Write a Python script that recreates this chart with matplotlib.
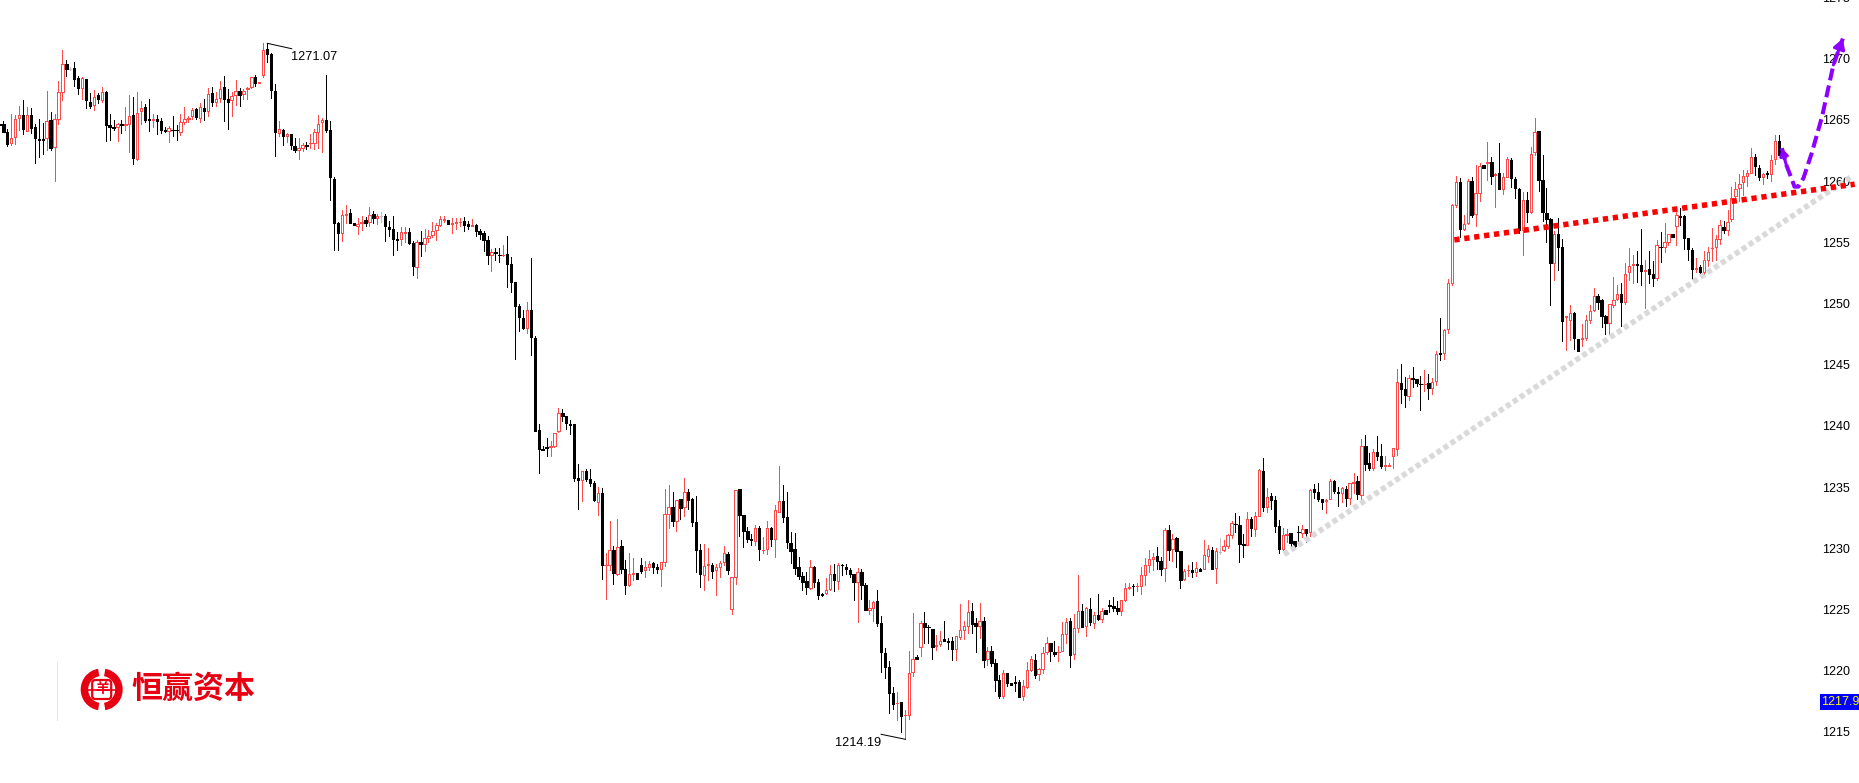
import numpy as np
import matplotlib
matplotlib.use("Agg")
import matplotlib.pyplot as plt
from matplotlib.patches import Rectangle, Wedge, FancyBboxPatch

plt.rcParams['font.family'] = ['Liberation Sans', 'Noto Sans CJK SC', 'DejaVu Sans']

# candles as (open, high, low, close), one list per leg of the move
bars_top = [
    (1264.65,1264.7,1264.55,1264.6),(1264.7,1264.9,1264.05,1264.05),(1264.0,1264.25,1262.9,1263.05),
    (1263.15,1265.5,1262.95,1263.5),(1263.6,1265.4,1263.05,1265.1),(1265.2,1266.15,1264.2,1265.4),
    (1265.4,1266.6,1263.85,1264.25),(1264.1,1266.05,1264.1,1265.4),(1265.4,1265.95,1263.95,1264.35),
    (1264.4,1264.65,1261.5,1263.55),(1263.45,1265.1,1262.0,1263.4),(1263.45,1264.75,1262.25,1263.4),
    (1263.5,1267.4,1262.55,1264.9),(1265.0,1265.65,1262.55,1262.7),(1262.8,1265.5,1260.0,1265.05),
    (1265.1,1268.2,1264.7,1267.25),(1267.25,1270.7,1266.6,1269.55),(1269.55,1269.9,1268.6,1269.2),
    (1269.2,1269.3,1269.1,1269.2),(1269.25,1269.75,1267.8,1268.35),(1268.4,1268.6,1267.15,1267.6),
    (1267.6,1268.55,1266.7,1268.4),(1268.35,1268.35,1266.0,1266.6),(1266.45,1267.2,1266.0,1266.15),
    (1266.2,1267.45,1265.8,1266.85),(1267.05,1267.2,1266.4,1266.7),(1266.65,1267.7,1266.5,1267.25),
    (1267.3,1267.4,1263.3,1264.6),(1264.6,1265.5,1263.35,1264.45),(1264.4,1265.0,1264.2,1264.35),
    (1264.4,1264.75,1263.3,1264.65),(1264.65,1265.0,1263.95,1264.6),(1264.6,1266.05,1264.2,1264.65),
    (1264.7,1267.05,1262.35,1265.3),(1265.4,1266.9,1261.4,1261.9),(1261.85,1267.3,1261.7,1265.6),
    (1265.7,1266.55,1264.7,1265.95),(1266.05,1266.3,1264.85,1265.0),(1265.05,1266.75,1264.1,1265.0),
    (1265.0,1265.5,1264.45,1265.05),(1265.1,1265.4,1263.85,1264.9),(1264.9,1265.2,1263.9,1264.2),
    (1264.15,1264.4,1264.05,1264.1),(1264.1,1264.5,1263.2,1264.35),(1264.2,1265.3,1263.7,1264.15),
    (1264.2,1264.6,1263.4,1264.15),(1264.05,1265.5,1263.75,1264.8),(1264.8,1266.05,1264.7,1265.05),
    (1265.1,1265.3,1264.8,1265.2),(1265.3,1265.95,1265.05,1265.8),(1265.9,1265.95,1265.05,1265.25),
    (1265.2,1266.4,1264.85,1266.05),(1265.95,1266.7,1265.0,1265.7),(1265.75,1267.6,1265.3,1267.15),
    (1267.2,1267.7,1266.15,1266.45),(1266.5,1267.3,1266.15,1266.75),(1266.8,1268.2,1266.5,1267.55),
    (1267.7,1268.6,1264.9,1266.7),(1266.7,1267.5,1264.25,1266.5),(1266.6,1267.3,1265.3,1266.95),
    (1267.0,1268.3,1266.2,1267.35),(1267.35,1267.6,1266.15,1267.05),(1267.15,1267.5,1266.7,1267.4),
    (1267.5,1267.7,1266.7,1267.6),(1267.7,1268.55,1267.65,1268.5),(1268.5,1268.65,1267.8,1268.05),
    (1268.05,1268.1,1268.05,1268.1),(1268.65,1271.25,1268.5,1270.75),(1270.8,1271.25,1269.7,1270.4),
    (1270.4,1270.5,1266.8,1267.45),(1267.4,1267.9,1262.05,1264.0),(1263.95,1264.9,1263.65,1264.25),
    (1264.15,1264.25,1262.95,1263.7),(1263.65,1263.9,1263.2,1263.85),(1263.85,1263.85,1262.6,1262.95),
    (1262.85,1263.55,1262.4,1262.55),(1262.55,1263.5,1261.8,1262.7),(1262.7,1263.15,1262.5,1262.95),
    (1262.95,1263.2,1262.6,1262.9),(1263.1,1263.85,1262.7,1263.15),(1263.15,1264.25,1262.6,1264.0),
    (1264.0,1265.4,1262.7,1264.7),(1264.8,1265.15,1262.35,1265.0),(1265.0,1268.65,1264.05,1264.2),
    (1264.15,1264.95,1258.45,1260.3),(1260.2,1260.3,1254.4,1256.6),
]

bars_shelf = [
    (1256.6,1256.65,1254.4,1255.8),(1255.8,1257.65,1255.15,1257.2),(1257.25,1258.05,1256.6,1257.3),
    (1257.4,1257.7,1256.55,1256.6),(1256.6,1256.6,1256.4,1256.4),(1256.3,1257.0,1255.7,1256.5),
    (1256.55,1257.15,1256.0,1256.7),(1256.85,1257.1,1256.3,1256.6),(1256.65,1257.9,1256.35,1257.2),
    (1257.3,1257.55,1256.6,1256.95),(1257.0,1257.3,1256.5,1257.15),(1257.15,1257.45,1256.7,1257.15),
    (1257.15,1257.3,1255.15,1256.3),(1256.25,1256.75,1255.55,1256.1),(1256.1,1257.15,1253.95,1255.3),
    (1255.25,1255.85,1254.4,1255.2),(1255.3,1256.25,1254.8,1255.85),(1255.8,1256.25,1255.05,1255.85),
    (1255.85,1256.2,1254.9,1254.95),(1254.95,1255.1,1252.35,1253.1),(1253.0,1255.2,1252.1,1255.0),
    (1255.0,1255.9,1253.9,1254.9),(1254.9,1256.1,1254.3,1255.35),(1255.35,1256.0,1255.05,1255.55),
    (1255.6,1256.65,1255.4,1255.95),(1256.05,1256.6,1255.2,1256.4),(1256.45,1257.15,1256.3,1256.9),
    (1256.85,1257.15,1256.7,1256.9),(1256.85,1256.85,1256.5,1256.5),(1256.5,1257.0,1255.8,1256.55),
    (1256.6,1257.0,1256.1,1256.7),(1256.65,1257.0,1256.3,1256.7),(1256.75,1257.05,1255.9,1256.4),
    (1256.5,1256.75,1256.1,1256.35),(1256.3,1256.9,1256.3,1256.4),(1256.45,1256.5,1255.5,1255.95),
    (1255.95,1256.1,1255.25,1255.7),(1255.75,1255.9,1254.3,1255.2),(1255.2,1255.5,1253.25,1253.95),
    (1253.95,1254.45,1252.65,1254.2),(1254.2,1254.55,1253.55,1254.15),(1254.0,1254.55,1253.4,1253.95),
    (1253.95,1254.8,1253.9,1254.0),
]

bars_slide = [
    (1254.05,1255.5,1251.35,1253.25),(1253.25,1253.8,1250.95,1251.75),(1251.75,1251.75,1245.5,1249.8),
    (1249.8,1250.0,1247.75,1248.9),(1248.8,1249.5,1247.9,1248.0),(1248.0,1250.1,1247.6,1249.45),
    (1249.45,1253.7,1245.8,1247.3),(1247.2,1247.35,1239.6,1239.6),(1239.65,1240.2,1236.15,1238.15),
    (1238.1,1238.35,1238.0,1238.05),(1238.25,1239.0,1237.55,1238.2),(1238.3,1238.75,1237.55,1238.35),
    (1238.4,1239.45,1238.3,1239.4),(1239.6,1241.45,1239.5,1241.05),(1241.05,1241.35,1240.4,1240.8),
    (1240.8,1240.85,1239.75,1240.25),(1240.15,1240.5,1239.35,1240.1),(1240.15,1240.15,1235.5,1235.75),
    (1235.75,1236.9,1233.2,1235.55),(1235.55,1236.3,1233.85,1236.3),(1236.3,1236.5,1235.5,1235.65),
    (1235.65,1236.5,1235.1,1235.35),(1235.35,1235.5,1233.85,1233.95),(1233.8,1235.0,1232.7,1234.5),
    (1234.5,1234.9,1227.5,1228.6),(1228.6,1229.65,1225.85,1228.65),(1228.65,1232.2,1228.2,1229.9),
    (1229.85,1230.2,1227.1,1227.95),(1227.9,1232.4,1227.8,1230.15),(1230.2,1230.7,1228.0,1228.3),
    (1228.3,1229.05,1226.25,1227.0),(1227.0,1229.6,1226.9,1227.9),(1227.9,1229.25,1227.4,1227.95),
    (1227.95,1227.95,1227.5,1227.5),(1228.65,1229.2,1227.95,1228.15),(1228.2,1228.95,1227.7,1228.45),
    (1228.5,1229.0,1228.25,1228.75),(1228.8,1228.85,1228.0,1228.5),(1228.5,1228.7,1228.0,1228.3),
    (1228.35,1228.85,1226.9,1228.85),(1228.85,1234.85,1228.55,1232.8),(1232.8,1235.15,1231.65,1233.35),
    (1233.4,1234.6,1231.8,1232.25),(1232.25,1233.95,1231.4,1233.95),(1234.0,1234.05,1232.4,1233.3),
    (1233.35,1235.75,1232.65,1234.6),(1234.6,1234.85,1233.2,1233.95),(1234.0,1234.1,1231.8,1232.15),
]

bars_range = [
    (1232.15,1234.3,1228.1,1229.85),(1229.85,1230.35,1226.85,1227.9),(1227.8,1230.35,1226.6,1228.55),
    (1228.65,1230.0,1227.4,1228.7),(1228.65,1228.8,1227.55,1228.15),(1228.25,1228.7,1226.2,1228.45),
    (1228.45,1229.0,1227.7,1228.8),(1228.85,1230.2,1228.65,1229.6),(1229.55,1229.7,1227.9,1228.25),
    (1225.05,1227.65,1224.65,1227.65),(1227.65,1234.8,1227.1,1234.75),(1234.85,1234.85,1231.0,1232.7),
    (1232.7,1232.7,1230.15,1231.4),(1231.4,1231.75,1230.5,1230.75),(1230.75,1231.2,1230.3,1230.7),
    (1230.6,1231.9,1230.25,1231.65),(1231.65,1231.8,1229.05,1229.95),(1229.85,1230.9,1229.6,1229.9),
    (1229.95,1232.2,1229.55,1231.65),(1231.65,1231.75,1230.2,1230.75),(1230.8,1233.55,1229.3,1233.15),
    (1233.0,1236.75,1233.0,1233.85),(1233.85,1235.2,1232.15,1232.55),(1232.55,1234.6,1230.0,1230.5),
    (1230.45,1231.35,1228.8,1229.8),(1229.95,1231.25,1227.9,1228.4),(1228.45,1229.3,1227.5,1227.75),
    (1227.75,1228.05,1226.6,1227.25),(1227.35,1228.05,1226.25,1226.85),(1226.75,1229.05,1226.7,1228.45),
    (1228.45,1228.55,1226.85,1227.25),(1227.25,1227.5,1225.85,1226.2),(1226.3,1226.35,1226.1,1226.2),
    (1226.35,1227.55,1226.25,1226.6),(1226.7,1228.65,1226.6,1227.9),(1227.9,1228.7,1226.5,1227.4),
    (1227.35,1228.8,1226.65,1228.6),(1228.65,1228.7,1227.8,1228.6),(1228.45,1228.7,1227.9,1228.3),
    (1228.25,1228.4,1227.65,1227.9),(1227.9,1227.9,1225.8,1227.25),(1227.25,1228.4,1224.0,1228.05),
    (1228.05,1228.3,1225.85,1227.0),(1227.0,1227.15,1224.95,1224.95),(1224.95,1225.75,1224.65,1225.15),
    (1225.15,1225.7,1224.05,1225.65),(1225.7,1226.6,1223.65,1223.9),(1223.9,1224.5,1219.9,1221.5),
    (1221.45,1221.85,1219.4,1220.3),(1220.3,1220.8,1216.55,1218.2),(1218.2,1218.65,1216.9,1217.3),
    (1217.35,1218.25,1216.0,1217.4),(1217.45,1217.45,1215.0,1216.3),(1216.35,1216.8,1214.4,1216.4),
]

bars_rebound = [
    (1216.4,1221.6,1216.05,1219.85),(1219.9,1224.7,1219.55,1221.0),(1221.1,1221.3,1220.95,1220.95),
    (1221.95,1224.05,1221.2,1223.9),(1223.9,1224.8,1222.25,1223.6),(1223.6,1223.75,1222.25,1223.55),
    (1223.4,1223.45,1220.95,1221.95),(1222.05,1222.9,1221.7,1222.1),(1222.15,1223.25,1222.0,1222.45),
    (1222.6,1224.05,1222.4,1222.4),(1222.4,1222.65,1221.75,1222.35),(1222.4,1222.75,1220.9,1221.75),
    (1221.75,1222.85,1220.9,1222.8),(1222.75,1225.45,1222.6,1223.3),(1223.3,1224.05,1222.6,1223.65),
    (1223.65,1225.8,1223.1,1224.8),(1224.9,1225.55,1223.1,1223.8),(1223.9,1224.3,1221.5,1223.65),
    (1223.65,1225.55,1222.7,1224.05),(1224.05,1224.4,1220.3,1220.9),(1220.95,1221.95,1220.45,1221.6),
    (1221.6,1222.0,1220.4,1220.65),(1220.65,1220.95,1218.35,1219.25),(1219.25,1219.65,1217.75,1217.95),
    (1217.9,1220.05,1217.8,1219.8),(1219.8,1219.8,1218.75,1219.0),(1219.0,1219.0,1218.85,1218.85),
    (1219.05,1219.55,1218.35,1219.0),(1219.05,1219.25,1217.85,1217.85),(1217.9,1219.25,1217.6,1218.75),
    (1218.65,1220.7,1218.6,1220.05),(1220.05,1221.2,1220.0,1220.95),(1220.9,1221.35,1219.4,1219.65),
    (1219.75,1220.25,1219.25,1220.15),(1220.15,1221.95,1219.8,1221.45),(1221.55,1222.75,1221.35,1222.25),
    (1222.25,1222.3,1220.8,1221.6),(1221.55,1222.45,1221.2,1221.35),(1221.5,1222.05,1220.8,1221.55),
    (1221.6,1224.0,1221.6,1223.0),(1223.0,1224.3,1222.25,1224.0),(1224.05,1224.3,1220.3,1221.3),
    (1221.35,1224.65,1220.95,1223.5),(1223.5,1227.8,1223.15,1224.9),(1224.9,1225.45,1223.6,1223.6),
    (1223.65,1225.2,1222.85,1225.15),(1225.05,1225.95,1223.75,1224.0),(1223.9,1224.8,1223.5,1224.55),
    (1224.55,1226.25,1224.15,1224.25),(1224.25,1225.15,1224.0,1224.9),(1224.95,1224.95,1224.65,1224.65),
    (1225.35,1225.8,1224.8,1225.3),(1225.3,1226.05,1224.9,1225.15),(1225.15,1225.7,1224.65,1224.9),
    (1224.9,1225.8,1224.55,1225.8),(1225.8,1227.15,1225.7,1226.75),(1226.8,1227.15,1226.7,1226.85),
]

bars_climb = [
    (1226.95,1227.1,1226.2,1226.9),(1226.9,1227.15,1226.5,1226.95),(1226.95,1228.5,1226.25,1227.8),
    (1227.85,1229.2,1227.0,1228.6),(1228.65,1229.85,1228.05,1229.1),(1229.15,1229.6,1228.25,1229.3),
    (1229.4,1230.1,1228.3,1229.0),(1229.0,1229.3,1227.85,1228.3),(1228.4,1231.65,1227.35,1231.5),
    (1231.5,1231.9,1229.05,1229.85),(1229.95,1231.15,1228.95,1230.75),(1230.85,1230.9,1228.5,1229.8),
    (1229.8,1229.8,1226.75,1227.4),(1227.5,1228.3,1227.4,1228.15),(1228.2,1228.65,1227.75,1228.25),
    (1228.25,1228.9,1227.65,1228.05),(1228.05,1228.9,1227.75,1228.4),(1228.3,1228.4,1228.15,1228.15),
    (1228.3,1230.7,1228.3,1229.45),(1229.4,1230.3,1228.9,1229.95),(1229.85,1230.1,1228.3,1228.3),
    (1228.4,1230.0,1227.15,1229.8),(1229.7,1230.85,1229.55,1229.7),(1229.85,1230.7,1229.8,1230.2),
    (1230.2,1231.15,1230.0,1231.1),(1231.1,1232.25,1230.85,1232.05),(1232.0,1232.9,1231.35,1231.95),
    (1231.9,1232.65,1228.9,1230.35),(1230.35,1231.15,1229.3,1230.3),(1230.3,1233.0,1230.3,1232.4),
    (1232.4,1232.55,1231.0,1231.65),(1231.6,1232.95,1231.0,1232.65),(1232.65,1236.5,1232.65,1236.4),
    (1236.3,1237.4,1233.05,1233.35),(1233.35,1234.95,1233.0,1234.2),(1234.25,1234.5,1233.2,1233.95),
    (1233.95,1234.25,1231.35,1231.8),(1231.8,1232.3,1229.6,1229.95),(1229.95,1231.65,1229.9,1231.1),
    (1231.1,1231.6,1230.5,1231.15),(1231.25,1231.25,1230.1,1230.45),(1230.6,1230.6,1230.0,1230.2),
    (1231.35,1231.85,1230.5,1231.3),(1231.25,1231.9,1230.9,1231.6),(1231.6,1231.6,1230.5,1231.25),
    (1231.35,1234.85,1231.0,1234.75),(1234.85,1235.25,1234.1,1234.6),(1234.6,1235.35,1233.85,1234.05),
    (1234.05,1234.05,1233.2,1233.8),(1233.9,1234.05,1232.9,1233.95),(1234.05,1235.65,1234.05,1235.5),
    (1235.5,1235.55,1234.5,1234.7),(1234.6,1235.0,1233.45,1234.55),(1234.5,1235.0,1233.8,1234.95),
    (1234.85,1235.1,1233.45,1234.1),(1234.1,1235.3,1233.6,1235.3),(1235.35,1236.15,1234.5,1235.4),
    (1235.5,1235.9,1234.05,1234.45),(1234.35,1238.95,1233.95,1238.4),(1238.35,1239.25,1236.4,1236.9),
    (1236.95,1237.8,1236.4,1236.55),(1236.55,1238.1,1236.4,1237.85),(1237.85,1239.2,1237.2,1237.55),
    (1237.55,1238.5,1236.55,1236.75),(1236.75,1237.55,1236.4,1236.8),(1236.75,1237.0,1236.7,1236.8),
    (1237.55,1238.2,1236.55,1238.2),(1238.15,1244.65,1237.6,1243.6),(1243.5,1245.05,1241.9,1243.05),
    (1243.05,1244.0,1241.55,1242.55),(1242.45,1244.15,1242.1,1243.9),(1243.9,1244.8,1243.2,1243.85),
    (1243.85,1243.85,1243.25,1243.5),(1243.45,1244.1,1241.3,1243.4),(1243.4,1244.55,1242.85,1243.45),
    (1243.5,1244.25,1242.2,1243.1),(1243.1,1243.9,1242.6,1243.6),(1243.65,1246.15,1243.35,1245.85),
]

bars_surge = [
    (1245.95,1248.8,1245.4,1245.9),(1245.95,1247.95,1245.5,1247.85),(1247.9,1252.0,1247.6,1251.65),
    (1251.7,1258.1,1251.5,1258.05),(1258.05,1260.45,1257.85,1259.9),(1259.9,1260.25,1255.45,1256.1),
    (1256.1,1257.25,1256.0,1256.5),(1256.55,1260.2,1256.5,1260.0),(1260.0,1260.3,1257.05,1257.25),
    (1257.3,1261.3,1256.3,1259.0),(1259.05,1261.45,1258.35,1261.25),(1261.35,1261.35,1261.1,1261.1),
    (1261.5,1263.2,1260.1,1261.55),(1261.55,1262.0,1259.75,1260.45),(1260.5,1260.65,1257.9,1260.55),
    (1260.65,1263.1,1259.35,1259.35),(1259.35,1260.65,1258.95,1260.3),(1260.35,1261.95,1260.3,1261.85),
    (1261.75,1261.9,1259.5,1260.25),(1260.2,1260.3,1258.65,1259.4),(1259.35,1259.45,1255.8,1256.0),
    (1256.0,1259.1,1254.0,1258.5),(1258.5,1259.15,1256.7,1257.5),(1257.45,1262.8,1257.4,1262.2),
    (1262.35,1265.15,1262.15,1264.0),(1264.1,1264.1,1259.2,1260.1),(1260.1,1262.1,1256.75,1257.5),
    (1257.4,1259.4,1255.05,1256.9),(1256.9,1256.95,1249.9,1253.3),(1253.3,1255.9,1251.9,1255.65),
    (1255.65,1256.95,1252.75,1254.65),(1254.6,1255.3,1246.95,1248.55),
]

bars_recovery = [
    (1248.9,1248.95,1246.2,1248.95),(1248.65,1249.9,1247.0,1249.2),(1249.25,1249.35,1246.25,1247.2),
    (1247.1,1247.1,1246.15,1246.15),(1247.1,1248.3,1246.5,1247.15),(1247.15,1249.05,1247.0,1248.65),
    (1248.65,1249.9,1248.4,1249.4),(1249.5,1251.3,1249.4,1250.6),(1250.6,1250.8,1249.55,1250.15),
    (1250.25,1250.35,1248.1,1249.0),(1249.0,1249.1,1247.55,1248.45),(1248.45,1250.0,1247.55,1250.0),
    (1249.9,1252.2,1249.75,1250.3),(1250.35,1251.5,1250.3,1250.8),(1250.8,1251.65,1248.2,1250.15),
    (1250.15,1253.3,1250.0,1252.45),(1252.6,1254.5,1251.95,1253.05),(1253.15,1253.95,1251.65,1253.2),
    (1253.2,1254.3,1251.8,1253.15),(1253.15,1256.1,1251.5,1252.7),(1252.7,1253.55,1249.6,1252.75),
    (1252.8,1254.3,1251.65,1252.45),(1252.45,1253.5,1251.4,1252.1),(1252.05,1255.2,1251.95,1254.75),
    (1254.65,1255.85,1253.4,1254.6),(1254.6,1256.55,1254.25,1255.05),(1255.05,1255.65,1254.8,1255.65),
    (1255.65,1255.65,1255.45,1255.45),(1256.3,1257.9,1254.75,1257.25),(1257.15,1257.8,1256.4,1257.1),
    (1257.15,1257.25,1254.45,1255.35),(1255.35,1255.35,1253.55,1254.45),(1254.4,1254.5,1252.0,1252.85),
    (1252.85,1253.7,1252.55,1252.9),(1253.0,1253.15,1252.4,1252.55),(1252.55,1254.3,1252.4,1253.55),
    (1253.55,1254.6,1253.1,1254.25),(1254.5,1256.15,1253.5,1254.55),(1254.65,1255.6,1253.55,1255.25),
    (1255.3,1256.85,1254.9,1256.4),(1256.25,1256.75,1255.8,1256.0),(1256.05,1257.65,1255.6,1256.7),
    (1256.9,1259.55,1256.75,1258.65),(1258.8,1259.95,1258.3,1259.35),(1259.4,1260.6,1258.35,1259.8),
    (1259.95,1260.9,1258.9,1260.4),(1260.4,1260.9,1259.6,1260.65),(1260.65,1262.7,1260.65,1261.95),
    (1261.95,1262.2,1260.5,1261.2),(1261.05,1261.3,1260.1,1260.35),(1260.35,1260.7,1259.75,1260.6),
    (1260.65,1260.8,1260.25,1260.6),(1260.6,1262.15,1260.0,1261.75),(1261.8,1263.8,1261.4,1263.3),
    (1263.3,1263.8,1262.1,1262.15),
]

price_ticks = [1215, 1220, 1225, 1230, 1235, 1240, 1245, 1250, 1255, 1260, 1265, 1270]

# trend lines and the projected path, (bar number, price)
support_x = [326.4, 470.6]
support_y = [1229.5, 1260.4]
resist_x = [369.6, 471.3]
resist_y = [1255.2, 1259.75]
path_x = [452.8, 453.9, 455.4, 456.0, 457.0, 458.3, 460.4, 463.0, 465.9, 468.3]
path_y = [1262.7, 1261.35, 1260.1, 1259.55, 1259.55, 1260.25, 1262.3, 1265.25, 1269.5, 1271.65]

RED = "#ff4a4a"
LOGO_RED = "#e60012"
PX = 0.72  # one pixel in points at 100 dpi


def main():
    rows = np.array(bars_top + bars_shelf + bars_slide + bars_range + bars_rebound
                    + bars_climb + bars_surge + bars_recovery)
    opens, highs, lows, closes = rows.T
    x = np.arange(len(rows))

    fig = plt.figure(figsize=(18.59, 7.83), dpi=100)
    ax = fig.add_axes([0, 0, 1, 1])
    ax.set_xlim(0.15, 472.4)
    ax.set_ylim(1210.83, 1274.8)

    colors = [RED if c > o else ("black" if c < o else "#bdbdbd") for o, c in zip(opens, closes)]
    faces = ["white" if c != "black" else "black" for c in colors]
    ax.vlines(x, lows, highs, colors=colors, linewidth=PX, antialiased=False, zorder=2)
    ax.bar(x, closes - opens, bottom=opens, width=0.6, color=faces, edgecolor=colors,
           linewidth=PX, antialiased=False, zorder=3)

    # trend lines
    ax.plot(support_x, support_y, color="#d9d9d9", lw=4.0, dashes=(0.9, 0.6),
            dash_capstyle="butt", zorder=4)
    ax.plot(resist_x, resist_y, color="#ff0000", lw=4.0, dashes=(0.95, 0.85),
            dash_capstyle="butt", zorder=5)

    # projected path with an arrow at each end
    purple = "#8b00ff"
    ax.plot(path_x, path_y, color=purple, lw=2.9, dashes=(3, 1.3), dash_capstyle="butt", zorder=6)
    for i_from, i_to, size in [(1, 0, 7), (-2, -1, 10)]:
        ax.annotate("", xy=(path_x[i_to], path_y[i_to]), xytext=(path_x[i_from], path_y[i_from]),
                    arrowprops=dict(arrowstyle="-|>,head_length=0.6,head_width=0.35", color=purple,
                                    lw=2.2, shrinkA=0, shrinkB=0, mutation_scale=size), zorder=6)

    # high and low labels
    ax.plot([68.07, 74.26], [1271.26, 1270.82], color="black", lw=PX, zorder=4)
    ax.text(74.0, 1270.17, "1271.07", fontsize=9.2, va="center", ha="left", zorder=7)
    ax.plot([223.98, 230.16], [1214.81, 1214.4], color="black", lw=PX, zorder=4)
    ax.text(212.3, 1214.13, "1214.19", fontsize=9.2, va="center", ha="left", zorder=7)

    # price scale inside the right edge
    for side in ax.spines.values():
        side.set_visible(False)
    ax.set_xticks([])
    ax.yaxis.tick_right()
    ax.set_yticks(price_ticks)
    ax.tick_params(axis="y", length=0, pad=-26.6, labelsize=9, labelcolor="black")
    ax.text(463.1, 1274.9, "1275", fontsize=9, va="center", ha="left", clip_on=True, zorder=7)

    # last price box
    ax.add_patch(Rectangle((462.5, 1216.8), 9.9, 1.3, facecolor="#0000ff", edgecolor="none", zorder=8))
    ax.text(462.7, 1217.45, "1217.9", color="#ffff00", fontsize=9, va="center", ha="left",
            clip_on=True, zorder=9)

    # logo, drawn in pixel coordinates on its own layer
    logo = fig.add_axes([0, 0, 1, 1], facecolor="none")
    logo.set_xlim(0, 1859)
    logo.set_ylim(783, 0)
    logo.axis("off")
    logo.plot([56.7, 56.7], [662, 720], color="#e4e4e4", lw=PX)
    cx, cy = 101.7, 689.5
    logo.add_patch(Wedge((cx, cy), 21, 100, 260, width=7.5, facecolor=LOGO_RED, edgecolor="none"))
    logo.add_patch(Wedge((cx, cy), 21, -80, 80, width=7.5, facecolor=LOGO_RED, edgecolor="none"))
    logo.plot([cx - 15, cx + 15], [cy, cy], color=LOGO_RED, lw=1.2)
    logo.add_patch(FancyBboxPatch((cx - 9.5, cy - 9.5), 19, 19, boxstyle="round,pad=0,rounding_size=3",
                                  facecolor="white", edgecolor=LOGO_RED, lw=1.6))
    logo.text(cx, cy, "羊", color=LOGO_RED, fontsize=10, fontweight="bold", ha="center", va="center",
              family=["Noto Sans CJK SC", "DejaVu Sans"])
    logo.text(193.5, 688.5, "恒赢资本", color=LOGO_RED, fontsize=22.3, fontweight="bold",
              ha="center", va="center", family=["Noto Sans CJK SC", "DejaVu Sans"])

    fig.savefig("out.png", dpi=100)


if __name__ == '__main__':
    main()
